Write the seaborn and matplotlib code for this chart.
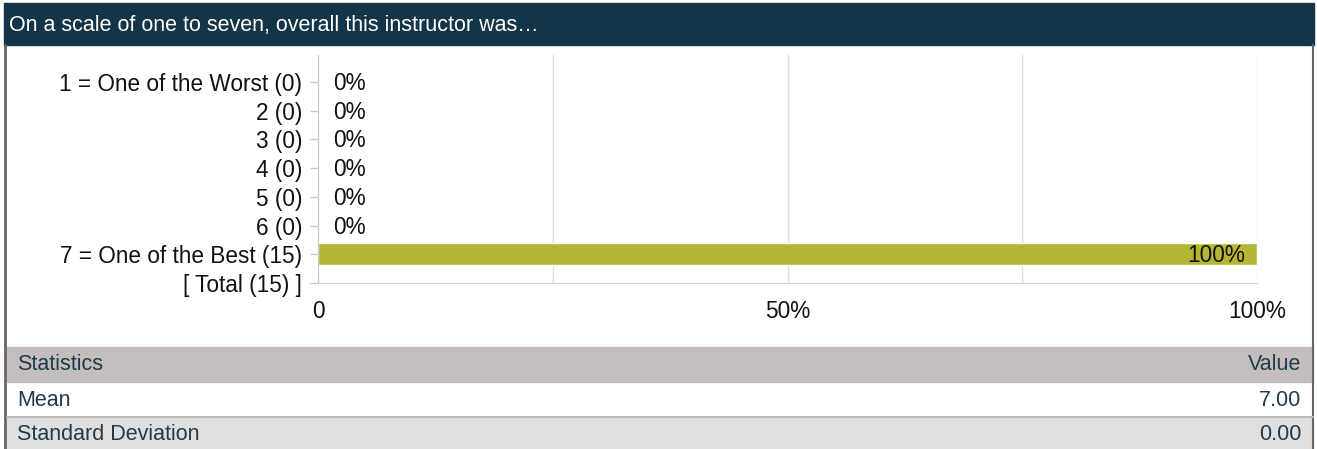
"""
Rating distribution chart: single question summary with statistics table
"""

import pandas as pd
import numpy as np
import matplotlib
matplotlib.use("Agg")
import matplotlib.pyplot as plt
from matplotlib.patches import Rectangle
import seaborn as sns

# Data
labels = ["1 = One of the Worst", "2", "3", "4", "5", "6", "7 = One of the Best", "Total"]
counts = [0, 0, 0, 0, 0, 0, 15, 15]
percents = [0, 0, 0, 0, 0, 0, 100, 0]
xtick_values = [0, 25, 50, 75, 100]
xtick_labels = ["0", "", "50%", "", "100%"]
question = "On a scale of one to seven, overall this instructor was\u2026"
stat_names = ["Mean", "Standard Deviation"]
stat_values = ["7.00", "0.00"]

sns.set_style("white")
plt.rcParams["font.family"] = ["Liberation Sans", "DejaVu Sans"]

W, H = 1317, 449
BAR_COLOR = "#b5b634"
HEADER_COLOR = "#143547"
TEXT_DARK = "#1f3b4d"
FS_CHART = 16.3
FS_TABLE = 15.5

fig = plt.figure(figsize=(W / 100, H / 100), dpi=100)

# background layer in pixel coordinates
bg = fig.add_axes([0, 0, 1, 1], zorder=0)
bg.set_xlim(0, W)
bg.set_ylim(H, 0)
bg.axis("off")

# title bar
bg.add_patch(Rectangle((4, 3), 1310, 42, color=HEADER_COLOR))
bg.text(9, 25, question, color="white", fontsize=FS_TABLE, va="center", ha="left")

# outer frame
bg.plot([5, 5], [45, H], color="#6b6466", lw=2)
bg.plot([1313, 1313], [45, H], color="#6b6466", lw=1.5)

# statistics table
bg.add_patch(Rectangle((7, 347), 1306, 35, color="#c3bdbd"))
bg.add_patch(Rectangle((7, 418), 1306, 31, color="#e0dfdf"))
bg.plot([7, 1313], [417, 417], color="#bdbaba", lw=1.5)
bg.text(17, 365, "Statistics", color=TEXT_DARK, fontsize=FS_TABLE, va="center")
bg.text(1301, 365, "Value", color=TEXT_DARK, fontsize=FS_TABLE, va="center", ha="right")
for i, (name, val) in enumerate(zip(stat_names, stat_values)):
    y = 400 + i * 35
    bg.text(17, y, name, color=TEXT_DARK, fontsize=FS_TABLE, va="center")
    bg.text(1301, y, val, color=TEXT_DARK, fontsize=FS_TABLE, va="center", ha="right")

# bar chart
df = pd.DataFrame({"label": labels, "count": counts, "pct": percents})
df["ticklabel"] = [f"{l} ({c})" if l != "Total" else f"[ {l} ({c}) ]"
                   for l, c in zip(df["label"], df["count"])]

left, right, top, bottom = 318, 1257, 55, 283
ax = fig.add_axes([left / W, 1 - bottom / H, (right - left) / W, (bottom - top) / H], zorder=1)
ax.patch.set_alpha(0)

sns.barplot(data=df, y="ticklabel", x="pct", order=df["ticklabel"], color=BAR_COLOR,
            width=0.77, saturation=1, ax=ax)

n = len(labels)
ax.set_ylim(n - 1, -0.94)
ax.set_xlim(0, 100)
ax.set_xticks(xtick_values)
ax.set_xticklabels(xtick_labels)
ax.set_xlabel("")
ax.set_ylabel("")
ax.grid(axis="x", color="#dedede", lw=1)
ax.set_axisbelow(True)
for side in ["top", "right"]:
    ax.spines[side].set_visible(False)
ax.spines["left"].set_color("#c8c8c8")
ax.spines["bottom"].set_color("#d4d4d4")
ax.tick_params(axis="x", length=0, pad=12, labelsize=FS_CHART, labelcolor="#111111")
ax.tick_params(axis="y", length=6, width=1, color="#c8c8c8", pad=5.5,
               labelsize=FS_CHART, labelcolor="#111111", left=True)

# value labels
for i, (l, p) in enumerate(zip(labels, percents)):
    if l == "Total":
        continue
    if p >= 10:
        ax.text(p - 1.3, i + 0.05, f"{p}%", ha="right", va="center", fontsize=FS_CHART, color="#111111")
    else:
        ax.text(p + 1.6, i + 0.05, f"{p}%", ha="left", va="center", fontsize=FS_CHART, color="#111111")

fig.savefig("out.png", dpi=100)
